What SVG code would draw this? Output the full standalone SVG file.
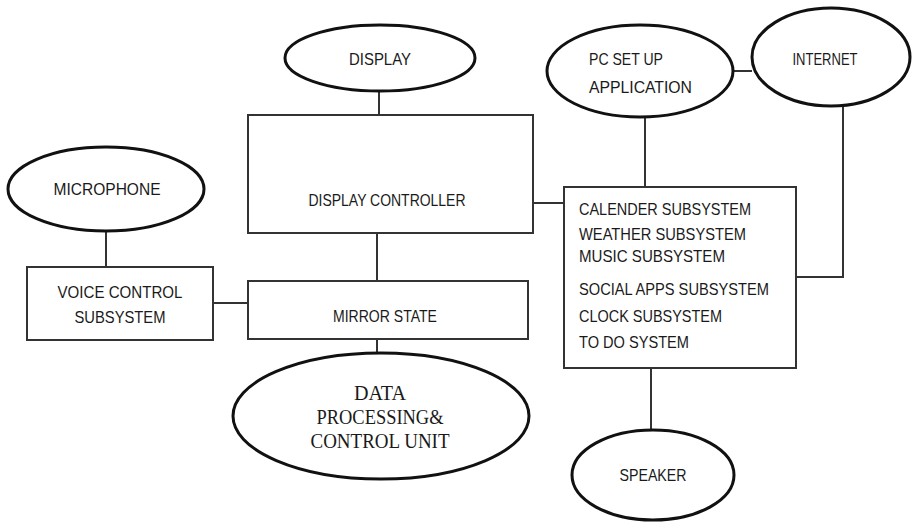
<svg xmlns="http://www.w3.org/2000/svg" width="912" height="526" viewBox="0 0 912 526">
<style>
.ell{fill:#fff;stroke:#111;stroke-width:3}
.box{fill:#fff;stroke:#333;stroke-width:2}
.ln{fill:none;stroke:#333;stroke-width:2}
.t{font-family:"Liberation Sans",Arial,sans-serif;font-size:16.5px;fill:#1a1a1a}
.c{text-anchor:middle}
.s{font-family:"Liberation Serif","Times New Roman",serif;font-size:20px;fill:#1a1a1a;text-anchor:middle}
</style>
<rect width="912" height="526" fill="#fff"/>
<g id="connectors">
<line class="ln" x1="379" y1="91" x2="379" y2="115"/>
<line class="ln" x1="533" y1="203" x2="564" y2="203"/>
<line class="ln" x1="645" y1="118" x2="645" y2="187"/>
<line class="ln" x1="733" y1="71" x2="752" y2="71"/>
<polyline class="ln" points="843,107 843,277 796,277"/>
<line class="ln" x1="651" y1="368" x2="651" y2="430"/>
<line class="ln" x1="106" y1="231" x2="106" y2="267"/>
<line class="ln" x1="213" y1="303" x2="248" y2="303"/>
<line class="ln" x1="377" y1="233" x2="377" y2="281"/>
<line class="ln" x1="377" y1="339" x2="377" y2="353"/>
</g>
<g id="display">
<ellipse class="ell" cx="380" cy="58" rx="95" ry="33"/>
<text class="t c" x="380" y="65" textLength="62" lengthAdjust="spacingAndGlyphs">DISPLAY</text>
</g>
<g id="display-controller">
<rect class="box" x="248" y="115" width="285" height="118"/>
<text class="t c" x="387" y="206" textLength="157" lengthAdjust="spacingAndGlyphs">DISPLAY  CONTROLLER</text>
</g>
<g id="pc-setup">
<ellipse class="ell" cx="640" cy="71" rx="93" ry="46"/>
<text class="t" x="589" y="65" textLength="74" lengthAdjust="spacingAndGlyphs">PC SET UP</text>
<text class="t" x="589" y="93" textLength="103" lengthAdjust="spacingAndGlyphs">APPLICATION</text>
</g>
<g id="internet">
<ellipse class="ell" cx="831" cy="57" rx="79" ry="49"/>
<text class="t c" x="825" y="65" textLength="65" lengthAdjust="spacingAndGlyphs">INTERNET</text>
</g>
<g id="subsystems">
<rect class="box" x="564" y="187" width="232" height="181"/>
<text class="t" x="579" y="215" textLength="172" lengthAdjust="spacingAndGlyphs">CALENDER SUBSYSTEM</text>
<text class="t" x="579" y="240" textLength="167" lengthAdjust="spacingAndGlyphs">WEATHER SUBSYSTEM</text>
<text class="t" x="579" y="262" textLength="146" lengthAdjust="spacingAndGlyphs">MUSIC SUBSYSTEM</text>
<text class="t" x="579" y="295" textLength="190" lengthAdjust="spacingAndGlyphs">SOCIAL APPS SUBSYSTEM</text>
<text class="t" x="579" y="322" textLength="143" lengthAdjust="spacingAndGlyphs">CLOCK SUBSYSTEM</text>
<text class="t" x="579" y="348" textLength="110" lengthAdjust="spacingAndGlyphs">TO DO SYSTEM</text>
</g>
<g id="speaker">
<ellipse class="ell" cx="653" cy="475" rx="81" ry="45"/>
<text class="t c" x="653" y="481" textLength="67" lengthAdjust="spacingAndGlyphs">SPEAKER</text>
</g>
<g id="microphone">
<ellipse class="ell" cx="106" cy="189" rx="98" ry="42"/>
<text class="t c" x="107" y="195" textLength="107" lengthAdjust="spacingAndGlyphs">MICROPHONE</text>
</g>
<g id="voice-control">
<rect class="box" x="27" y="267" width="186" height="73"/>
<text class="t c" x="120" y="298" textLength="125" lengthAdjust="spacingAndGlyphs">VOICE CONTROL</text>
<text class="t c" x="120" y="323" textLength="91" lengthAdjust="spacingAndGlyphs">SUBSYSTEM</text>
</g>
<g id="mirror-state">
<rect class="box" x="248" y="281" width="280" height="58"/>
<text class="t c" x="385" y="322" textLength="104" lengthAdjust="spacingAndGlyphs">MIRROR  STATE</text>
</g>
<g id="data-processing">
<ellipse class="ell" cx="381" cy="416" rx="148" ry="63"/>
<text class="s" x="380" y="400" textLength="52" lengthAdjust="spacingAndGlyphs">DATA</text>
<text class="s" x="380" y="424" textLength="127" lengthAdjust="spacingAndGlyphs">PROCESSING&amp;</text>
<text class="s" x="380" y="448" textLength="139" lengthAdjust="spacingAndGlyphs">CONTROL UNIT</text>
</g>
</svg>
